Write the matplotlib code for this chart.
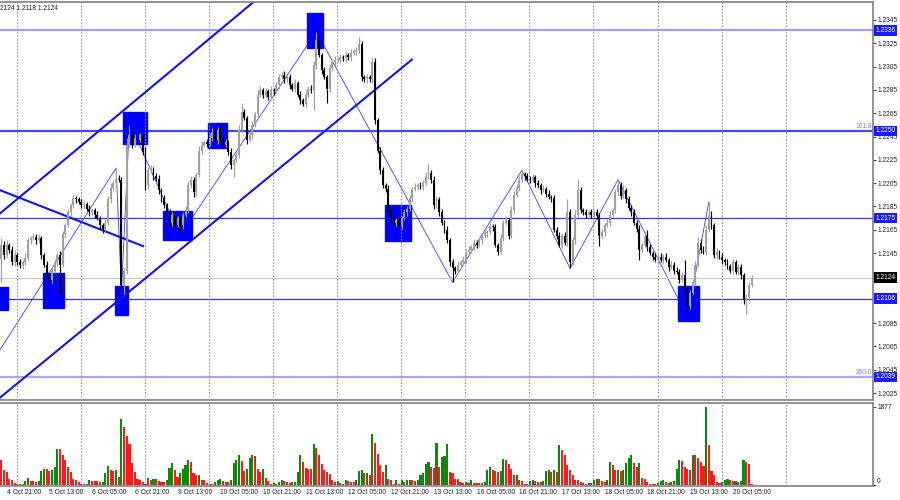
import numpy as np
import matplotlib
matplotlib.use('Agg')
import matplotlib.pyplot as plt
from matplotlib.patches import Rectangle

plt.rcParams['font.family'] = ['Liberation Sans', 'DejaVu Sans']

# EURUSD H1 - prices in pips above 1.2000 (2152 -> 1.2152)
open0 = 2140
close_pips = [
    2152, 2143, 2152, 2148, 2137, 2143, 2137, 2135, 2137, 2141,
    2156, 2158, 2159, 2156, 2158, 2143, 2135, 2126, 2122, 2130,
    2137, 2143, 2135, 2161, 2169, 2180, 2186, 2192, 2191, 2189,
    2186, 2187, 2183, 2180, 2182, 2178, 2175, 2169, 2166, 2171,
    2191, 2201, 2205, 2209, 2208, 2118, 2130, 2238, 2246, 2238,
    2244, 2242, 2246, 2232, 2203, 2216, 2217, 2211, 2209, 2199,
    2192, 2186, 2180, 2171, 2178, 2169, 2175, 2169, 2178, 2182,
    2203, 2208, 2197, 2212, 2233, 2238, 2240, 2239, 2244, 2249,
    2242, 2251, 2244, 2238, 2240, 2232, 2221, 2225, 2229, 2251,
    2266, 2261, 2242, 2246, 2255, 2264, 2281, 2285, 2281, 2284,
    2279, 2285, 2284, 2289, 2296, 2298, 2294, 2296, 2289, 2286,
    2291, 2281, 2276, 2273, 2281, 2286, 2285, 2306, 2328, 2315,
    2302, 2296, 2286, 2304, 2309, 2311, 2311, 2313, 2312, 2315,
    2313, 2317, 2318, 2319, 2324, 2296, 2294, 2296, 2294, 2309,
    2259, 2233, 2216, 2203, 2200, 2182, 2175, 2171, 2173, 2169,
    2175, 2180, 2183, 2192, 2200, 2202, 2203, 2202, 2205, 2211,
    2214, 2208, 2186, 2191, 2180, 2171, 2165, 2156, 2137, 2132,
    2130, 2135, 2137, 2139, 2146, 2148, 2150, 2154, 2152, 2156,
    2160, 2162, 2163, 2168, 2167, 2152, 2146, 2158, 2171, 2173,
    2160, 2182, 2195, 2201, 2208, 2213, 2211, 2209, 2208, 2210,
    2205, 2203, 2199, 2200, 2196, 2193, 2192, 2165, 2160, 2152,
    2160, 2154, 2180, 2137, 2156, 2178, 2199, 2182, 2180, 2178,
    2180, 2178, 2180, 2177, 2160, 2163, 2169, 2171, 2178, 2182,
    2197, 2203, 2194, 2199, 2191, 2184, 2180, 2171, 2166, 2148,
    2152, 2160, 2150, 2145, 2142, 2139, 2142, 2139, 2142, 2139,
    2133, 2135, 2130, 2129, 2122, 2126, 2114, 2100, 2111, 2120,
    2135, 2154, 2148, 2146, 2165, 2178, 2169, 2143, 2146, 2142,
    2139, 2137, 2134, 2130, 2137, 2129, 2133, 2126, 2105, 2107,
    2118, 2124,
]
wick_up = [
    6, 3, 4, 2, 3, 5, 2, 3, 2, 4,
    3, 2, 3, 2, 3, 2, 2, 3, 2, 3,
    3, 2, 4, 3, 2, 3, 2, 3, 2, 2,
    2, 3, 2, 3, 2, 2, 3, 2, 2, 3,
    3, 4, 3, 9, 3, 2, 3, 6, 9, 4,
    3, 4, 2, 3, 4, 3, 4, 2, 3, 3,
    2, 3, 2, 3, 2, 3, 2, 3, 2, 3,
    4, 3, 2, 3, 4, 3, 2, 3, 4, 3,
    3, 2, 3, 2, 3, 2, 3, 2, 3, 4,
    8, 3, 2, 3, 3, 2, 4, 3, 2, 3,
    2, 3, 2, 3, 3, 2, 3, 2, 3, 2,
    3, 2, 3, 2, 3, 2, 3, 4, 7, 3,
    2, 3, 2, 3, 2, 3, 2, 3, 2, 3,
    2, 3, 2, 3, 6, 3, 2, 3, 2, 3,
    3, 2, 3, 3, 2, 3, 2, 3, 2, 3,
    2, 3, 2, 3, 2, 3, 2, 3, 3, 4,
    8, 2, 3, 3, 2, 3, 2, 3, 2, 3,
    2, 3, 2, 3, 2, 3, 2, 3, 2, 3,
    2, 3, 2, 3, 2, 3, 2, 3, 2, 3,
    2, 3, 3, 2, 3, 3, 2, 3, 2, 3,
    2, 3, 2, 3, 2, 3, 2, 3, 2, 3,
    2, 3, 11, 3, 3, 4, 10, 3, 2, 3,
    2, 3, 2, 3, 2, 3, 2, 3, 3, 2,
    3, 5, 3, 4, 2, 3, 2, 3, 2, 3,
    2, 3, 5, 3, 2, 3, 2, 3, 2, 3,
    2, 3, 2, 3, 2, 3, 13, 3, 2, 3,
    3, 5, 3, 3, 4, 11, 3, 2, 3, 2,
    3, 2, 3, 2, 3, 2, 3, 3, 2, 3,
    2, 2,
]
wick_dn = [
    20, 3, 2, 3, 2, 3, 2, 3, 4, 2,
    2, 3, 2, 3, 2, 3, 2, 3, 9, 3,
    2, 3, 25, 2, 3, 2, 3, 2, 3, 2,
    2, 3, 2, 3, 2, 3, 2, 3, 4, 2,
    2, 3, 2, 3, 2, 5, 8, 3, 2, 3,
    2, 3, 2, 3, 4, 3, 2, 3, 2, 3,
    3, 2, 3, 4, 3, 5, 2, 6, 3, 2,
    3, 2, 4, 3, 2, 3, 2, 3, 2, 3,
    2, 3, 2, 3, 2, 3, 4, 11, 3, 2,
    3, 2, 3, 2, 3, 2, 3, 2, 3, 2,
    3, 2, 3, 2, 3, 2, 3, 2, 3, 2,
    3, 2, 3, 2, 3, 2, 3, 17, 3, 2,
    3, 2, 12, 3, 2, 3, 2, 3, 2, 3,
    2, 3, 2, 3, 2, 3, 2, 3, 2, 3,
    3, 2, 3, 2, 3, 2, 3, 2, 3, 2,
    3, 2, 3, 2, 3, 2, 3, 2, 3, 2,
    2, 3, 3, 2, 3, 2, 3, 2, 3, 12,
    3, 2, 3, 2, 3, 2, 3, 2, 3, 2,
    3, 2, 3, 2, 3, 2, 3, 2, 3, 2,
    3, 2, 3, 2, 3, 2, 3, 2, 3, 2,
    3, 2, 3, 2, 3, 2, 3, 2, 3, 2,
    3, 2, 3, 5, 2, 3, 2, 3, 2, 3,
    2, 3, 2, 3, 9, 2, 3, 2, 3, 2,
    3, 2, 3, 2, 3, 2, 3, 2, 3, 9,
    3, 2, 3, 2, 3, 2, 3, 2, 3, 2,
    3, 2, 3, 2, 3, 2, 3, 10, 3, 2,
    3, 2, 3, 2, 3, 2, 3, 2, 3, 2,
    3, 2, 3, 2, 3, 2, 3, 3, 4, 12,
    3, 2,
]
volume = [
    620, 380, 320, 160, 140, 60, 40, 45, 30, 100,
    180, 100, 100, 80, 100, 340, 400, 390, 340, 360,
    440, 880, 870, 740, 620, 440, 320, 160, 120, 80,
    40, 30, 28, 120, 115, 112, 110, 80, 90, 300,
    460, 360, 340, 360, 210, 1600, 1400, 1180, 1000, 540,
    320, 160, 140, 80, 40, 180, 120, 160, 155, 100,
    95, 80, 120, 420, 540, 360, 210, 300, 400, 480,
    620, 560, 300, 240, 260, 140, 120, 60, 40, 30,
    80, 140, 160, 100, 90, 80, 120, 540, 600, 720,
    580, 340, 400, 660, 720, 700, 400, 320, 400, 180,
    100, 40, 60, 40, 80, 120, 100, 80, 60, 80,
    90, 320, 740, 560, 420, 400, 390, 1000, 900, 740,
    520, 360, 320, 280, 120, 80, 100, 60, 40, 120,
    115, 80, 78, 120, 340, 360, 300, 310, 260, 1240,
    1010, 760, 500, 320, 500, 160, 120, 40, 120, 40,
    120, 80, 120, 125, 120, 100, 140, 240, 300, 520,
    560, 440, 430, 1010, 440, 680, 700, 1000, 320, 300,
    160, 150, 80, 60, 80, 60, 120, 60, 60, 55,
    50, 80, 360, 440, 380, 340, 320, 335, 640, 620,
    520, 400, 240, 260, 120, 100, 40, 30, 100, 120,
    110, 80, 78, 100, 340, 360, 320, 365, 320, 960,
    860, 740, 500, 360, 240, 140, 135, 80, 60, 40,
    60, 55, 120, 160, 145, 100, 95, 140, 560, 480,
    360, 380, 340, 360, 540, 660, 740, 540, 440, 545,
    180, 145, 80, 40, 30, 40, 60, 100, 120, 80,
    60, 80, 100, 400, 620, 580, 440, 400, 360, 740,
    720, 660, 560, 460, 1877, 960, 340, 240, 80, 60,
    80, 140, 145, 120, 100, 105, 90, 100, 600, 560,
    520, 40,
]

date_bars = [2 + 16 * i for i in range(18)]
date_labels = ['4 Oct 21:00', '5 Oct 13:00', '6 Oct 05:00', '6 Oct 21:00',
               '9 Oct 13:00', '10 Oct 05:00', '10 Oct 21:00', '11 Oct 13:00',
               '12 Oct 05:00', '12 Oct 21:00', '13 Oct 13:00', '16 Oct 05:00',
               '16 Oct 21:00', '17 Oct 13:00', '18 Oct 05:00', '18 Oct 21:00',
               '19 Oct 13:00', '20 Oct 05:00']
grid_bars = [5.8 + 24 * i for i in range(13)]
price_ticks = [1.2345, 1.2325, 1.2305, 1.2285, 1.2265, 1.2245, 1.2225, 1.2205,
               1.2185, 1.2165, 1.2145, 1.2085, 1.2065, 1.2045, 1.2025]

# horizontal levels
levels = [1.2336, 1.2250, 1.2175, 1.2124, 1.2106, 1.2039]
level_colors = ['#a0a0ff', '#4646ff', '#3535e6', '#c8c8c8', '#3535e6', '#a8a8ff']
level_widths = [1.6, 1.6, 0.9, 0.9, 0.9, 1.6]
level_tag_bg = ['#1a1aff', '#1a1aff', '#1a1aff', '#000000', '#1a1aff', '#1a1aff']
fibo_text = {1.2250: '161.8', 1.2039: '200.0'}

# trend lines (bar, price)
channel_up = ([-0.5, 100], [1.2179, 1.2371])
channel_lo = ([-0.5, 153.8], [1.2021, 1.2311])
down_line = ([-0.5, 53.1], [1.2199, 1.2151])
zz_bars = [-0.5, 43, 45, 48, 67, 118, 169, 195, 213, 231, 257, 265]
zz_price = [1.2062, 1.2218, 1.2112, 1.2257, 1.2160, 1.2335, 1.2120, 1.2216,
            1.2132, 1.2208, 1.2090, 1.2189]

# blue rectangles: bar from, bar to, price low, price high
box_b0 = [-0.5, 15.6, 42.6, 45.6, 60.5, 77.4, 114.5, 143.7, 253.4]
box_b1 = [2.5, 23.5, 47.5, 54.6, 71.4, 84.5, 120.5, 153.4, 261.3]
box_lo = [1.2096, 1.2098, 1.2092, 1.2239, 1.2156, 1.2235, 1.2321, 1.2155, 1.2087]
box_hi = [1.2116, 1.2128, 1.2117, 1.2266, 1.2181, 1.2257, 1.2351, 1.2186, 1.2117]

c = 1 + np.array(close_pips) / 10000
o = np.r_[1 + open0 / 10000, c[:-1]]
hi = np.maximum(o, c) + np.array(wick_up) / 10000
lo = np.minimum(o, c) - np.array(wick_dn) / 10000
x = np.arange(len(c))
up = c >= o
vol = np.array(volume)

fig = plt.figure(figsize=(9, 5), dpi=100)
ax = fig.add_axes([0, 0.2, 0.97, 0.796])
axv = fig.add_axes([0, 0.028, 0.97, 0.166])

bull = '#a0a0a0'
bear = '#000000'
ax.vlines(x[up], lo[up], hi[up], color=bull, lw=0.85, zorder=3)
ax.vlines(x[~up], lo[~up], hi[~up], color=bear, lw=0.85, zorder=3)
body = np.maximum(np.abs(c - o), 0.00005)
ax.bar(x, body, bottom=np.minimum(o, c), width=0.72,
       color=np.where(up, bull, bear), zorder=4, linewidth=0)

for b0, b1, pl, ph in zip(box_b0, box_b1, box_lo, box_hi):
    ax.add_patch(Rectangle((b0, pl), b1 - b0, ph - pl, color='#0000ff', zorder=1.5))

ax.plot(zz_bars, zz_price, color='#3c3cff', lw=0.6, zorder=1)
for xs, ys in [channel_up, channel_lo, down_line]:
    ax.plot(xs, ys, color='#1414e6', lw=1.5, zorder=2)

for lv, col, lw in zip(levels, level_colors, level_widths):
    ax.axhline(lv, color=col, lw=lw, zorder=1.2)

for gb in grid_bars:
    ax.axvline(gb, color='#9a9a9a', lw=0.8, ls=(0, (1.5, 1.5)), zorder=1.8)
    axv.axvline(gb, color='#9a9a9a', lw=0.8, ls=(0, (1.5, 1.5)), zorder=0.5)

xmin, xmax = -0.49, 326.5
ax.set_xlim(xmin, xmax)
ax.set_ylim(1.20190, 1.23604)
ax.set_xticks([])
ax.yaxis.tick_right()
ax.set_yticks(price_ticks)
ax.set_yticklabels(['%.4f' % p for p in price_ticks])
ax.tick_params(axis='y', length=2, pad=1, labelsize=4.8, colors='#444444',
               labelcolor='#222222')

tr = ax.get_yaxis_transform()
for lv, bg in zip(levels, level_tag_bg):
    ax.text(1.003, lv, '%.4f' % lv, transform=tr, ha='left', va='center',
            fontsize=4.8, color='white', clip_on=False, zorder=10,
            bbox=dict(boxstyle='square,pad=0.25', fc=bg, ec='none'))
for lv, t in fibo_text.items():
    ax.text(0.999, lv + 0.00005, t, transform=tr, ha='right', va='bottom',
            fontsize=4.8, color='#8080ff', zorder=10)

for s in ['left']:
    ax.spines[s].set_visible(False)
    axv.spines[s].set_visible(False)
for a in (ax, axv):
    for s in ['top', 'right', 'bottom']:
        a.spines[s].set_color('#808080')
        a.spines[s].set_linewidth(1.2)

vcol = ['#ff1a1a'] + ['#0a8a0a' if vol[i] > vol[i - 1] else '#ff1a1a' for i in range(1, len(vol))]
axv.bar(x, vol, width=0.78, color=vcol, linewidth=0, zorder=2)
axv.set_xlim(xmin, xmax)
axv.set_ylim(-12, 1972)
axv.yaxis.tick_right()
axv.set_yticks([0, 1877])
axv.set_yticklabels(['0', '1877'])
axv.get_yticklabels()[0].set_va('bottom')
axv.tick_params(axis='y', length=2, pad=1, labelsize=4.8, colors='#444444',
                labelcolor='#222222')
axv.set_xticks(date_bars)
axv.set_xticklabels(date_labels, ha='left')
axv.tick_params(axis='x', length=0, pad=2, labelsize=4.8, labelcolor='#222222')

fig.text(0.0, 1 - 8 / 500, '2124 1.2118 1.2124', fontsize=4.8, va='center', color='#222222')

fig.savefig('out.png', dpi=100)
